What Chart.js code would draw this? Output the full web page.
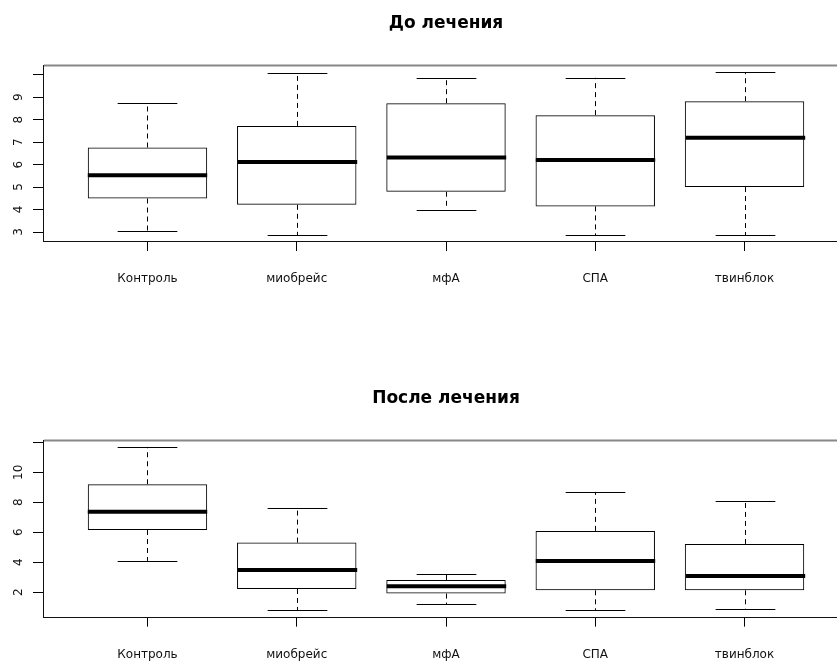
<!DOCTYPE html>
<html>
<head>
<meta charset="utf-8">
<script src="https://cdn.jsdelivr.net/npm/chart.js@4/dist/chart.umd.min.js"></script>
<style>
html, body { margin: 0; padding: 0; background: #fff; overflow: hidden; width: 837px; height: 663px; }
#wrap1 { position: absolute; left: 0; top: 0; width: 850px; height: 375px; }
#wrap2 { position: absolute; left: 0; top: 375px; width: 850px; height: 300px; }
</style>
</head>
<body>
<div id="wrap1"><canvas id="before" width="850" height="375"></canvas></div>
<div id="wrap2"><canvas id="after" width="850" height="300"></canvas></div>
<script>
var groups = ["Контроль", "миобрейс", "мфА", "СПА", "твинблок"];

// До лечения
var beforeLow  = [3.06, 2.85, 3.99, 2.85, 2.85];
var beforeQ1   = [4.49, 4.21, 4.79, 4.14, 5.00];
var beforeMed  = [5.52, 6.11, 6.32, 6.20, 7.19];
var beforeQ3   = [6.76, 7.72, 8.73, 8.20, 8.82];
var beforeHigh = [8.73, 10.07, 9.86, 9.86, 10.11];
var beforeTicks = [3, 4, 5, 6, 7, 8, 9, 10];
var beforeTickLabels = ["3", "4", "5", "6", "7", "8", "9", ""];

// После лечения
var afterLow  = [4.09, 0.82, 1.20, 0.82, 0.91];
var afterQ1   = [6.15, 2.22, 1.91, 2.13, 2.13];
var afterMed  = [7.37, 3.49, 2.40, 4.09, 3.09];
var afterQ3   = [9.20, 5.31, 2.82, 6.09, 5.22];
var afterHigh = [11.69, 7.60, 3.20, 8.69, 8.09];
var afterTicks = [2, 4, 6, 8, 10, 12];
var afterTickLabels = ["2", "4", "6", "8", "10", ""];

var font = 'DejaVu Sans';

// whiskers, staples, medians and the frame, drawn with the chart's scales
var boxParts = {
  id: 'boxParts',
  afterDatasetsDraw: function(chart) {
    var st = chart.options.plugins.boxParts;
    var xs = chart.scales.x, ys = chart.scales.y;
    var bars = chart.getDatasetMeta(0).data;
    var ctx = chart.ctx;
    ctx.save();
    ctx.strokeStyle = '#000';
    for (var i = 0; i < st.med.length; i++) {
      var x = Math.round(xs.getPixelForValue(i + 1)) + 0.5;
      var w = bars[i].width;
      ctx.lineWidth = 1;
      ctx.setLineDash([5, 4]);
      ctx.beginPath();
      ctx.moveTo(x, ys.getPixelForValue(st.q3[i]));
      ctx.lineTo(x, ys.getPixelForValue(st.high[i]));
      ctx.moveTo(x, ys.getPixelForValue(st.q1[i]));
      ctx.lineTo(x, ys.getPixelForValue(st.low[i]));
      ctx.stroke();
      ctx.setLineDash([]);
      ctx.beginPath();
      var yh = Math.round(ys.getPixelForValue(st.high[i])) + 0.5;
      var yl = Math.round(ys.getPixelForValue(st.low[i])) + 0.5;
      ctx.moveTo(x - w / 4, yh); ctx.lineTo(x + w / 4, yh);
      ctx.moveTo(x - w / 4, yl); ctx.lineTo(x + w / 4, yl);
      ctx.stroke();
      ctx.lineWidth = 4;
      ctx.beginPath();
      var ym = ys.getPixelForValue(st.med[i]);
      ctx.moveTo(x - w / 2, ym); ctx.lineTo(x + w / 2, ym);
      ctx.stroke();
    }
    var a = chart.chartArea;
    ctx.lineWidth = 1;
    ctx.strokeStyle = '#111';
    ctx.strokeRect(Math.round(a.left) + 0.5, Math.round(a.top) + 0.5,
                   Math.round(a.right - a.left), Math.round(a.bottom - a.top));
    // the top edge looks softer in the original
    ctx.strokeStyle = '#888';
    ctx.lineWidth = 2;
    ctx.beginPath();
    ctx.moveTo(a.left + 1, Math.round(a.top) + 0.5);
    ctx.lineTo(a.right, Math.round(a.top) + 0.5);
    ctx.stroke();
    ctx.restore();
  }
};

function makeBox(id, title, low, q1, med, q3, high, yTicks, yLabels, yMin, yMax, labelPad, bottomPad) {
  var ctx = document.getElementById(id).getContext('2d');
  return new Chart(ctx, {
    type: 'bar',
    data: {
      datasets: [{
        data: groups.map(function(g, i) { return { x: i + 1, y: [q1[i], q3[i]] }; }),
        backgroundColor: 'rgba(0,0,0,0)',
        borderColor: '#000',
        borderWidth: 1,
        borderSkipped: false,
        barPercentage: 0.8,
        categoryPercentage: 1.0
      }]
    },
    options: {
      responsive: false,
      animation: false,
      layout: { padding: { left: 0, right: 1, top: 0, bottom: bottomPad } },
      plugins: {
        legend: { display: false },
        tooltip: { enabled: false },
        title: {
          display: true,
          text: title,
          fullSize: false,
          color: '#000',
          font: { family: font, size: 17, weight: 'bold' },
          padding: { top: 13, bottom: 31.6 }
        },
        boxParts: { low: low, q1: q1, med: med, q3: q3, high: high }
      },
      scales: {
        x: {
          type: 'linear',
          min: 0.3,
          max: 5.7,
          offset: false,
          afterBuildTicks: function(s) { s.ticks = groups.map(function(g, i) { return { value: i + 1 }; }); },
          afterFit: function(s) { s.height = 55; },
          border: { display: false },
          grid: { offset: false, drawOnChartArea: false, drawTicks: true, tickLength: 10, color: '#000' },
          ticks: {
            padding: 21,
            color: '#111',
            font: { family: font, size: 12 },
            maxRotation: 0,
            callback: function(v) { return groups[v - 1]; }
          }
        },
        y: {
          min: yMin,
          max: yMax,
          afterBuildTicks: function(s) { s.ticks = yTicks.map(function(v) { return { value: v }; }); },
          afterFit: function(s) { s.width = 43; },
          border: { display: false },
          grid: { drawOnChartArea: false, drawTicks: true, tickLength: 10, color: '#000' },
          ticks: {
            minRotation: 90,
            maxRotation: 90,
            crossAlign: 'center',
            padding: labelPad,
            color: '#111',
            font: { family: font, size: 12 },
            callback: function(v, i) { return yLabels[i]; }
          }
        }
      }
    },
    plugins: [boxParts]
  });
}

makeBox('before', 'До лечения', beforeLow, beforeQ1, beforeMed, beforeQ3, beforeHigh,
        beforeTicks, beforeTickLabels, 2.6, 10.43, 10, 79);
makeBox('after', 'После лечения', afterLow, afterQ1, afterMed, afterQ3, afterHigh,
        afterTicks, afterTickLabels, 0.37, 12.15, 6, 3.3);
</script>
</body>
</html>
